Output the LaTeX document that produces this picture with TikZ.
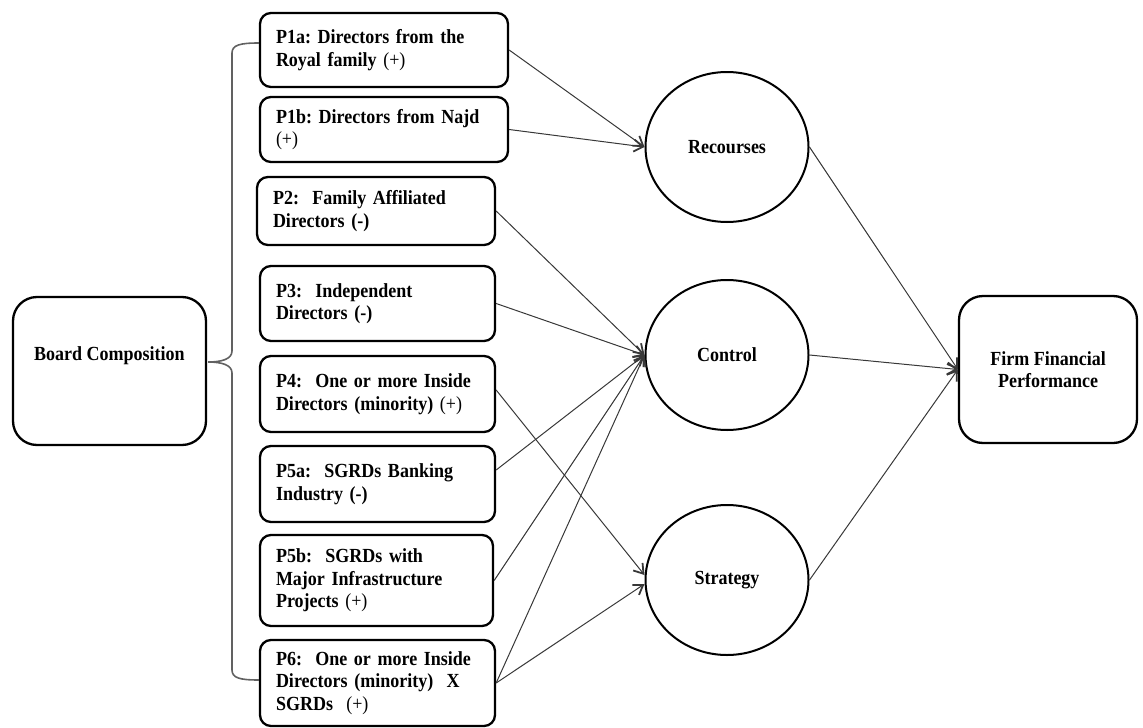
\documentclass[tikz,border=0pt]{standalone}
\usepackage{fontspec}
\setmainfont{Liberation Serif}[FakeStretch=0.9]
\usetikzlibrary{arrows.meta,shapes.geometric,calc}
\frenchspacing
\tikzset{
  txt/.style={font=\fontsize{20}{22.5}\selectfont\bfseries},
  pbox/.style={txt, draw=black, line width=2.3pt, rounded corners=11pt, align=left,
    inner xsep=16pt, inner ysep=0pt},
  bigbox/.style={txt, draw=black, line width=2.3pt, rounded corners=24pt, align=center,
    inner sep=0pt},
  oval/.style={txt, draw=black, ellipse, line width=2pt, inner sep=0pt,
    minimum width=163pt, minimum height=150pt},
  conn/.style={draw=black!78, line width=1pt, -{Straight Barb[length=9pt,width=12pt,line width=1.8pt]}},
  bracestyle/.style={draw=black!62, line width=1.6pt},
}
\newcommand{\plusmark}{{\mdseries(+)}}
\begin{document}
\begin{tikzpicture}[x=1pt,y=-1pt]
\useasboundingbox (0,0) rectangle (1143,728);
% left column boxes
\node[pbox, text width=216pt, minimum height=74pt] (p1a) at (384,50) {P1a: Directors from the\\Royal family \plusmark};
\node[pbox, text width=216pt, minimum height=65pt] (p1b) at (384,129.5) {P1b: Directors from Najd\\\plusmark};
\node[pbox, text width=206pt, minimum height=68pt] (p2) at (376,211) {P2:~ Family Affiliated\\Directors (-)};
\node[pbox, text width=203pt, minimum height=75pt] (p3) at (377.5,303.5) {P3:~ Independent\\Directors (-)};
\node[pbox, text width=203pt, minimum height=76pt] (p4) at (377.5,394) {P4:~ One or more Inside\\Directors (minority) \plusmark};
\node[pbox, text width=203pt, minimum height=76pt] (p5a) at (377.5,484) {P5a:~ SGRDs Banking\\Industry (-)};
\node[pbox, text width=201pt, minimum height=91pt] (p5b) at (376.5,580.5) {P5b:~ SGRDs with\\Major Infrastructure\\Projects \plusmark};
\node[pbox, text width=203pt, minimum height=86pt] (p6) at (377.5,683) {P6:~ One or more Inside\\Directors (minority)~ X\\SGRDs~ \plusmark};
% board composition
\node[bigbox, minimum width=193pt, minimum height=148pt, text depth=34pt] (board) at (109.5,371) {Board Composition};
% circles
\node[oval] (res) at (727,147) {Recourses};
\node[oval] (ctl) at (727,355) {Control};
\node[oval] (str) at (727,580) {Strategy};
% firm performance
\node[bigbox, minimum width=178pt, minimum height=147pt] (firm) at (1048,369.5) {Firm Financial\\Performance};
% brace
\coordinate (bt) at ([yshift=7pt]p1a.west);
\coordinate (bb) at ([yshift=3pt]p6.west);
\coordinate (tip) at ([yshift=9pt,xshift=1pt]board.east);
\draw[bracestyle] (bt) .. controls (240,43) and (232,45) .. (232,53) -- (232,351)
  .. controls (232,359) and (222,362) .. (tip)
  .. controls (222,362) and (232,365) .. (232,373) -- (232,670)
  .. controls (232,678) and (240,680) .. (bb);
% connectors
\draw[conn] (p1a.east) -- (res.west);
\draw[conn] (p1b.east) -- (res.west);
\draw[conn] (p2.east) -- (ctl.west);
\draw[conn] (p3.east) -- (ctl.west);
\draw[conn] ([yshift=4pt]p4.east) -- ([yshift=5pt]str.west);
\draw[conn] ([yshift=14pt]p5a.east) -- (ctl.west);
\draw[conn] (p5b.east) -- (ctl.west);
\draw[conn] (p6.east) -- (ctl.west);
\draw[conn] (p6.east) -- ([yshift=-4pt]str.west);
\draw[conn] (res.east) -- (firm.west);
\draw[conn] (ctl.east) -- (firm.west);
\draw[conn] (str.east) -- (firm.west);
\end{tikzpicture}
\end{document}
